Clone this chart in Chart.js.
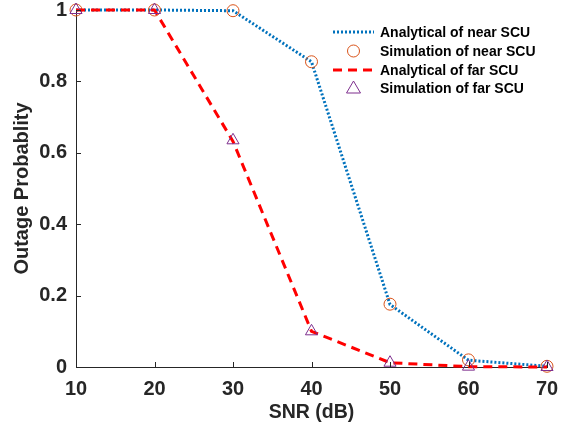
<!DOCTYPE html>
<html lang="en">
<head>
    <meta charset="UTF-8">
    <title>Outage Probability vs SNR</title>
    <script src="https://cdn.jsdelivr.net/npm/chart.js"></script>
    <style>
        html, body {
            margin: 0;
            padding: 0;
            background: #ffffff;
        }
        #wrap {
            width: 565px;
            height: 435px;
        }
    </style>
</head>
<body>
<div id="wrap"><canvas id="chart" width="565" height="435"></canvas></div>
<script>
    // values
    const snr = [10, 20, 30, 40, 50, 60, 70];
    const nearAnalytical = [1, 1, 0.998, 0.855, 0.175, 0.019, 0.002];
    const nearSimulation = [1, 1, 0.998, 0.855, 0.176, 0.02, 0.002];
    const farAnalytical = [1, 1, 0.632, 0.1, 0.012, 0.001, 0];
    const farSimulation = [1, 1, 0.635, 0.1, 0.012, 0.001, 0];
    const xTicks = [10, 20, 30, 40, 50, 60, 70];
    const yTicks = [0, 0.2, 0.4, 0.6, 0.8, 1];
    const legendLabels = ["Analytical of near SCU", "Simulation of near SCU", "Analytical of far SCU", "Simulation of far SCU"];

    const textColor = "#262626";
    const blue = "#0072BD";
    const orange = "#D95319";
    const red = "#FF0000";
    const purple = "#7E2F8E";
    const fontFamily = "'Liberation Sans', Arial, sans-serif";

    function pts(vals) {
        return snr.map((x, i) => ({ x: x, y: vals[i] }));
    }

    // inward tick marks (matlab style)
    const innerTicks = {
        id: "innerTicks",
        afterDraw(chart) {
            const ctx = chart.ctx;
            const xs = chart.scales.x, ys = chart.scales.y;
            ctx.save();
            ctx.strokeStyle = textColor;
            ctx.lineWidth = 1;
            ctx.beginPath();
            xTicks.forEach(v => {
                const px = Math.round(xs.getPixelForValue(v)) + 0.5;
                ctx.moveTo(px, ys.bottom);
                ctx.lineTo(px, ys.bottom - 5);
            });
            yTicks.forEach(v => {
                const py = Math.round(ys.getPixelForValue(v)) + 0.5;
                ctx.moveTo(xs.left, py);
                ctx.lineTo(xs.left + 5, py);
            });
            ctx.stroke();
            ctx.restore();
        }
    };

    // legend without a box, top right
    const sideLegend = {
        id: "sideLegend",
        afterDraw(chart) {
            const ctx = chart.ctx;
            const x0 = 333, x1 = 374, tx = 380;
            const rows = [32, 51, 70, 88];
            ctx.save();
            ctx.font = "bold 14px " + fontFamily;
            ctx.fillStyle = "#000000";
            ctx.textBaseline = "middle";
            chart.data.datasets.forEach((ds, i) => {
                const y = rows[i];
                if (ds.showLine) {
                    ctx.strokeStyle = ds.borderColor;
                    ctx.lineWidth = ds.borderWidth;
                    ctx.setLineDash(ds.borderDash);
                    ctx.beginPath();
                    ctx.moveTo(x0, y);
                    ctx.lineTo(x1, y);
                    ctx.stroke();
                    ctx.setLineDash([]);
                } else {
                    ctx.strokeStyle = ds.pointBorderColor;
                    ctx.lineWidth = 1;
                    const cx = (x0 + x1) / 2, r = 6;
                    ctx.beginPath();
                    if (ds.pointStyle === "circle") {
                        ctx.arc(cx, y, r, 0, Math.PI * 2);
                    } else {
                        ctx.moveTo(cx, y - 7);
                        ctx.lineTo(cx + 7, y + 5);
                        ctx.lineTo(cx - 7, y + 5);
                        ctx.closePath();
                    }
                    ctx.stroke();
                }
                ctx.fillText(legendLabels[i], tx, y + 1);
            });
            ctx.restore();
        }
    };

    new Chart(document.getElementById("chart"), {
        type: "scatter",
        data: {
            datasets: [
                {
                    label: legendLabels[0],
                    data: pts(nearAnalytical),
                    showLine: true,
                    borderColor: blue,
                    borderWidth: 3,
                    borderDash: [2, 2],
                    pointRadius: 0,
                    clip: false,
                    order: 3
                },
                {
                    label: legendLabels[1],
                    data: pts(nearSimulation),
                    showLine: false,
                    pointStyle: "circle",
                    pointRadius: 6,
                    pointBorderWidth: 1,
                    pointBorderColor: orange,
                    pointBackgroundColor: "rgba(0,0,0,0)",
                    clip: false,
                    order: 2
                },
                {
                    label: legendLabels[2],
                    data: pts(farAnalytical),
                    showLine: true,
                    borderColor: red,
                    borderWidth: 3,
                    borderDash: [9, 6],
                    pointRadius: 0,
                    clip: false,
                    order: 1
                },
                {
                    label: legendLabels[3],
                    data: pts(farSimulation),
                    showLine: false,
                    pointStyle: "triangle",
                    pointRadius: 7,
                    pointBorderWidth: 1,
                    pointBorderColor: purple,
                    pointBackgroundColor: "rgba(0,0,0,0)",
                    clip: false,
                    order: 0
                }
            ]
        },
        options: {
            responsive: false,
            animation: false,
            layout: { padding: { top: 10, right: 18, left: 0, bottom: 0 } },
            plugins: {
                legend: { display: false },
                tooltip: { enabled: false }
            },
            scales: {
                x: {
                    type: "linear",
                    min: 10,
                    max: 70,
                    afterFit(scale) {
                        scale.height = 68;
                        scale.paddingLeft = 0;
                        scale.paddingRight = 0;
                    },
                    afterBuildTicks(scale) { scale.ticks = xTicks.map(v => ({ value: v })); },
                    grid: { drawOnChartArea: false, drawTicks: false },
                    border: { color: textColor, width: 1 },
                    ticks: {
                        padding: 10,
                        color: textColor,
                        font: { family: fontFamily, size: 20, weight: "bold" },
                        maxRotation: 0
                    },
                    title: {
                        display: true,
                        text: "SNR (dB)",
                        color: textColor,
                        padding: { top: 0, bottom: 11 },
                        font: { family: fontFamily, size: 19.5, weight: "bold" }
                    }
                },
                y: {
                    min: 0,
                    max: 1,
                    afterFit(scale) {
                        scale.width = 76;
                        scale.paddingTop = 0;
                        scale.paddingBottom = 0;
                    },
                    afterBuildTicks(scale) { scale.ticks = yTicks.map(v => ({ value: v })); },
                    grid: { drawOnChartArea: false, drawTicks: false },
                    border: { color: textColor, width: 1 },
                    ticks: {
                        padding: 9,
                        color: textColor,
                        font: { family: fontFamily, size: 20, weight: "bold" },
                        callback: v => String(v)
                    },
                    title: {
                        display: true,
                        text: "Outage Probablity",
                        color: textColor,
                        padding: { top: 10, bottom: 0 },
                        font: { family: fontFamily, size: 20, weight: "bold" }
                    }
                }
            }
        },
        plugins: [innerTicks, sideLegend]
    });
</script>
</body>
</html>
